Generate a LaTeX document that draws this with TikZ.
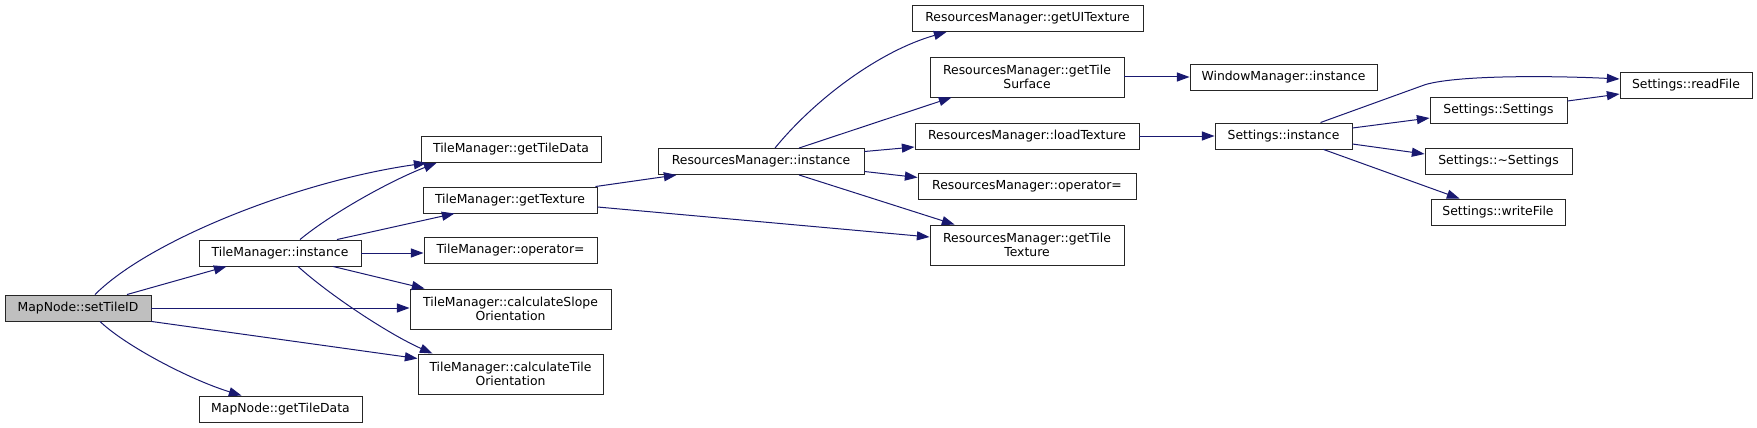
\documentclass[tikz,border=0pt]{standalone}
\usepackage{fontspec}
\setmainfont{DejaVu Sans}
\usetikzlibrary{arrows.meta,calc}
\definecolor{navy}{HTML}{191970}
\definecolor{focus}{HTML}{BFBFBF}

\begin{document}
\begin{tikzpicture}[
  x=0.75pt, y=-0.75pt,
  fn/.style={draw=black!85, line width=0.7pt, fill=white, inner sep=0pt,
             font=\fontsize{9.3}{11}\selectfont, align=center,
             minimum height=19.5pt},
  two/.style={minimum height=30pt},
  wd/.style={minimum width={#1*0.75pt}},
  cur/.style={fill=focus},
  call/.style={navy, line width=0.75pt, -{Triangle[length=9.5pt,width=6.8pt]}}]

\useasboundingbox (0,0) rectangle (1757,428);

% ========================= the caller and its callees =========================
\node[fn, cur, wd=146] (setTileID) at (78,308) {MapNode::setTileID};
\node[fn, wd=162] (tmInstance)    at (280,253)   {TileManager::instance};
\node[fn, wd=163] (mnGetTileData) at (280.5,409) {MapNode::getTileData};
\node[fn, wd=180] (tmGetTileData) at (511,149.5) {TileManager::getTileData};
\node[fn, wd=174] (tmGetTexture)  at (510,200)   {TileManager::getTexture};
\node[fn, wd=173] (tmOperator)    at (510.5,250.5) {TileManager::operator=};
\node[fn, two, wd=201] (tmCalcSlope) at (510.5,309)
  {TileManager::calculateSlope\\Orientation};
\node[fn, two, wd=185] (tmCalcTile) at (510.5,374)
  {TileManager::calculateTile\\Orientation};

% ============================= resources manager ==============================
\node[fn, wd=206] (rmInstance)     at (761,161.5)  {ResourcesManager::instance};
\node[fn, wd=231] (rmGetUITexture) at (1027.5,18.5) {ResourcesManager::getUITexture};
\node[fn, two, wd=194] (rmGetTileSurface) at (1027,77)
  {ResourcesManager::getTile\\Surface};
\node[fn, wd=224] (rmLoadTexture)  at (1027,136)   {ResourcesManager::loadTexture};
\node[fn, wd=218] (rmOperator)     at (1027,186.5) {ResourcesManager::operator=};
\node[fn, two, wd=194] (rmGetTileTexture) at (1027,245)
  {ResourcesManager::getTile\\Texture};

% ============================ window and settings =============================
\node[fn, wd=187] (wmInstance)  at (1283.5,77.5) {WindowManager::instance};
\node[fn, wd=137] (stInstance)  at (1283.5,136)  {Settings::instance};
\node[fn, wd=132] (stReadFile)  at (1686,85)     {Settings::readFile};
\node[fn, wd=137] (stSettings)  at (1498.5,110.5) {Settings::Settings};
\node[fn, wd=147] (stDtor)      at (1498.5,161.5) {Settings::\textasciitilde Settings};
\node[fn, wd=134] (stWriteFile) at (1498,212)    {Settings::writeFile};

% ================================== calls =====================================
\draw[call] ($(setTileID.north)+(17,0)$) .. controls +(55,-55) and +(-127,18)
  .. ($(tmGetTileData.south west)+(6,0)$);
\draw[call] ($(setTileID.north)+(49,0)$) -- ($(tmInstance.south west)+(28,0)$);
\draw[call] (setTileID.east) -- (setTileID.east -| tmCalcSlope.west);
\draw[call] (setTileID.south east) -- ($(tmCalcTile.north west)+(0,5)$);
\draw[call] ($(setTileID.south)+(22,0)$) .. controls +(25,24) and +(-52,-16)
  .. ($(mnGetTileData.north west)+(43,0)$);

\draw[call] ($(tmInstance.north)+(20,0)$) .. controls +(30,-25) and +(-47,18)
  .. ($(tmGetTileData.south west)+(16,0)$);
\draw[call] ($(tmInstance.north)+(57,0)$) -- ($(tmGetTexture.south west)+(32,0)$);
\draw[call] (tmInstance.east) -- (tmInstance.east -| tmOperator.west);
\draw[call] ($(tmInstance.south)+(53,0)$) -- ($(tmCalcSlope.north west)+(15,0)$);
\draw[call] ($(tmInstance.south)+(18,0)$) .. controls +(32,29) and +(-43,-19)
  .. ($(tmCalcTile.north west)+(15,0)$);

\draw[call] ($(tmGetTexture.north east)+(-2,0)$) -- ($(rmInstance.south west)+(19,0)$);
\draw[call] ($(tmGetTexture.east)+(0,7)$) -- ($(rmGetTileTexture.west)+(0,-8)$);

\draw[call] ($(rmInstance.north)+(14,0)$) .. controls +(40,-49) and +(-67,19)
  .. ($(rmGetUITexture.south west)+(35,0)$);
\draw[call] ($(rmInstance.north)+(38,0)$) -- ($(rmGetTileSurface.south west)+(22,0)$);
\draw[call] ($(rmInstance.east)+(0,-10)$) -- ($(rmLoadTexture.west)+(0,11)$);
\draw[call] ($(rmInstance.east)+(0,10)$) -- ($(rmOperator.west)+(0,-9)$);
\draw[call] ($(rmInstance.south)+(38,0)$) -- ($(rmGetTileTexture.north west)+(25,0)$);

\draw[call] (rmGetTileSurface.east) -- (rmGetTileSurface.east -| wmInstance.west);
\draw[call] (rmLoadTexture.east) -- (stInstance.west);

\draw[call] ($(stInstance.north)+(37,0)$) -- ++(105,-38)
  .. controls +(35,-10) and +(-60,-3) .. ($(stReadFile.west)+(0,-6)$);
\draw[call] ($(stInstance.east)+(0,-8)$) -- ($(stSettings.west)+(0,7.5)$);
\draw[call] ($(stInstance.east)+(0,8)$) -- ($(stDtor.west)+(0,-7.5)$);
\draw[call] ($(stInstance.south)+(40,0)$) -- ($(stWriteFile.north west)+(29,0)$);
\draw[call] ($(stSettings.east)+(0,-9.5)$) -- ($(stReadFile.west)+(0,9)$);

\end{tikzpicture}
\end{document}
